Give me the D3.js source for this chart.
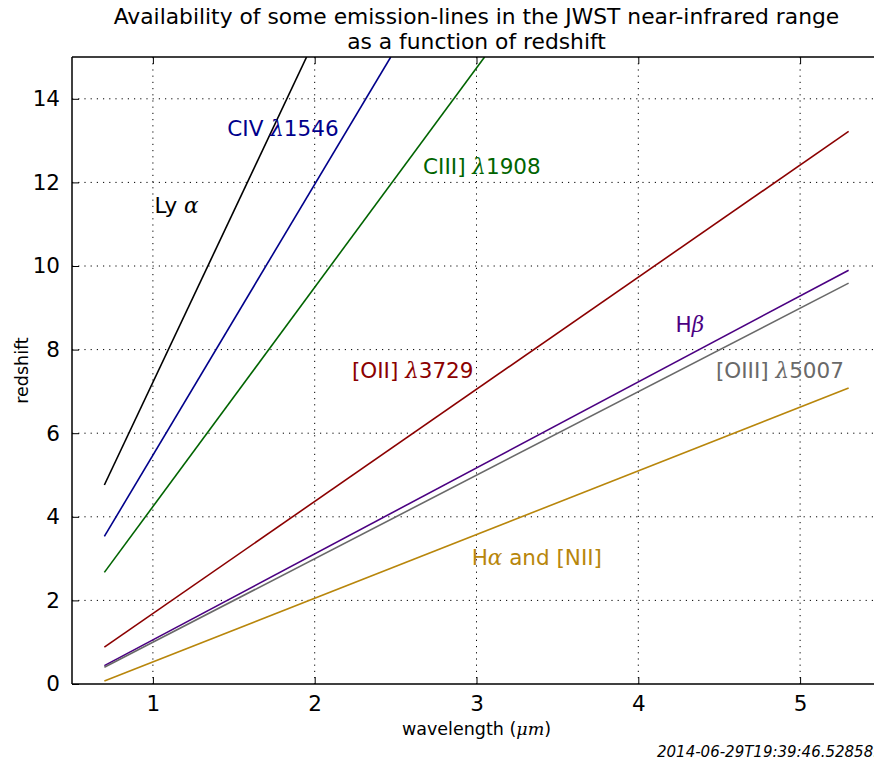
<!DOCTYPE html>
<html>
<head>
<meta charset="utf-8">
<script src="https://cdn.jsdelivr.net/npm/d3@7"></script>
<style>
  body { margin: 0; background: #fff; }
  svg { display: block; font-family: "DejaVu Sans", sans-serif; }
</style>
</head>
<body>
<svg id="chart" width="874" height="761"></svg>
<script>
// emission lines: name, colour, and points (wavelength in um, redshift)
var lineNames = ["Ly", "CIV", "CIII]", "[OII]", "Hb", "[OIII]", "Ha"];
var lineColors = ["#000000", "#00008b", "#006400", "#8b0000", "#4b0082", "#696969", "#b8860b"];
var lineWave = [
  [0.7, 1.95],
  [0.7, 2.47],
  [0.7, 3.05],
  [0.7, 5.3],
  [0.7, 5.3],
  [0.7, 5.3],
  [0.7, 5.3]
];
var lineZ = [
  [4.76, 15.0],
  [3.53, 15.0],
  [2.67, 15.0],
  [0.88, 13.22],
  [0.44, 9.90],
  [0.40, 9.59],
  [0.07, 7.08]
];
// label anchors in data coords (wavelength, redshift of baseline)
var labelWave = [1.01, 1.46, 2.67, 2.23, 4.23, 4.48, 2.97];
var labelZ = [11.26, 13.12, 12.21, 7.33, 8.43, 7.33, 2.84];
var xTicks = [1, 2, 3, 4, 5];
var yTicks = [0, 2, 4, 6, 8, 10, 12, 14];

window.onload = function () {
  var svg = d3.select("#chart");
  var left = 72, right = 881, top = 57, bottom = 684;

  var x = d3.scaleLinear().domain([0.5, 5.5]).range([left, right]);
  var y = d3.scaleLinear().domain([0, 15]).range([bottom, top]);

  svg.append("defs").append("clipPath").attr("id", "plotclip")
    .append("rect").attr("x", left).attr("y", top)
    .attr("width", right - left).attr("height", bottom - top);

  // grid
  var grid = svg.append("g");
  grid.selectAll(".gx").data(xTicks).enter().append("line")
    .attr("x1", d => x(d)).attr("x2", d => x(d))
    .attr("y1", top).attr("y2", bottom)
    .attr("stroke", "#000").attr("stroke-width", 1)
    .attr("stroke-dasharray", "1.2,5");
  grid.selectAll(".gy").data(yTicks.filter(d => d > 0)).enter().append("line")
    .attr("x1", left).attr("x2", right)
    .attr("y1", d => y(d)).attr("y2", d => y(d))
    .attr("stroke", "#000").attr("stroke-width", 1)
    .attr("stroke-dasharray", "1.2,5");

  // lines
  var lineGen = d3.line().x(d => x(d[0])).y(d => y(d[1]));
  var plot = svg.append("g").attr("clip-path", "url(#plotclip)");
  lineNames.forEach(function (name, i) {
    var pts = lineWave[i].map((w, j) => [w, lineZ[i][j]]);
    plot.append("path").datum(pts)
      .attr("d", lineGen)
      .attr("fill", "none")
      .attr("stroke", lineColors[i])
      .attr("stroke-width", 1.6);
  });

  // line labels
  var mathFont = "DejaVu Serif";
  var labels = [
    [["Ly ", false], ["\u03b1", true]],
    [["CIV ", false], ["\u03bb", true], ["1546", false]],
    [["CIII] ", false], ["\u03bb", true], ["1908", false]],
    [["[OII] ", false], ["\u03bb", true], ["3729", false]],
    [["H", false], ["\u03b2", true]],
    [["[OIII] ", false], ["\u03bb", true], ["5007", false]],
    [["H", false], ["\u03b1", true], [" and [NII]", false]]
  ];
  labels.forEach(function (parts, i) {
    var t = svg.append("text")
      .attr("x", x(labelWave[i])).attr("y", y(labelZ[i]))
      .attr("fill", lineColors[i])
      .attr("font-size", 21.5)
      .style("white-space", "pre");
    parts.forEach(function (p) {
      var ts = t.append("tspan").text(p[0]);
      if (p[1]) ts.attr("font-family", mathFont).attr("font-style", "italic");
    });
  });

  // axes frame
  svg.append("line").attr("x1", left).attr("x2", right).attr("y1", top).attr("y2", top)
    .attr("stroke", "#000").attr("stroke-width", 1.5);
  svg.append("line").attr("x1", left).attr("x2", right).attr("y1", bottom).attr("y2", bottom)
    .attr("stroke", "#000").attr("stroke-width", 1.5);
  svg.append("line").attr("x1", left).attr("x2", left).attr("y1", top).attr("y2", bottom)
    .attr("stroke", "#000").attr("stroke-width", 1.5);

  // ticks (inward, matplotlib classic)
  var xAxis = d3.axisBottom(x).tickValues(xTicks).tickSize(-7).tickPadding(12).tickFormat(d3.format("d"));
  var gx = svg.append("g").attr("transform", "translate(0," + bottom + ")").call(xAxis);
  gx.select(".domain").remove();
  gx.selectAll("text").attr("font-size", 21.5).attr("font-family", "DejaVu Sans").attr("fill", "#000");

  var xTop = d3.axisTop(x).tickValues(xTicks).tickSize(-7).tickFormat("");
  var gxt = svg.append("g").attr("transform", "translate(0," + top + ")").call(xTop);
  gxt.select(".domain").remove();

  var yAxis = d3.axisLeft(y).tickValues(yTicks).tickSize(-7).tickPadding(12).tickFormat(d3.format("d"));
  var gy = svg.append("g").attr("transform", "translate(" + left + ",0)").call(yAxis);
  gy.select(".domain").remove();
  gy.selectAll("text").attr("font-size", 21.5).attr("font-family", "DejaVu Sans").attr("fill", "#000");
  svg.selectAll(".tick line").attr("stroke", "#000").attr("stroke-width", 1);

  // title
  var cx = (left + right) / 2;
  svg.append("text").attr("x", cx).attr("y", 24).attr("text-anchor", "middle")
    .attr("font-size", 21.8).text("Availability of some emission-lines in the JWST near-infrared range");
  svg.append("text").attr("x", cx).attr("y", 49).attr("text-anchor", "middle")
    .attr("font-size", 21.8).text("as a function of redshift");

  // axis labels
  var xl = svg.append("text").attr("x", cx).attr("y", 735).attr("text-anchor", "middle")
    .attr("font-size", 17.5);
  xl.append("tspan").text("wavelength (");
  xl.append("tspan").attr("font-family", mathFont).attr("font-style", "italic").text("\u03bcm");
  xl.append("tspan").text(")");

  svg.append("text")
    .attr("transform", "translate(28," + ((top + bottom) / 2) + ") rotate(-90)")
    .attr("text-anchor", "middle").attr("font-size", 17.5).text("redshift");

  // timestamp
  svg.append("text").attr("x", 657).attr("y", 757)
    .attr("font-size", 15).attr("font-style", "italic")
    .text("2014-06-29T19:39:46.528589");
};
</script>
</body>
</html>
